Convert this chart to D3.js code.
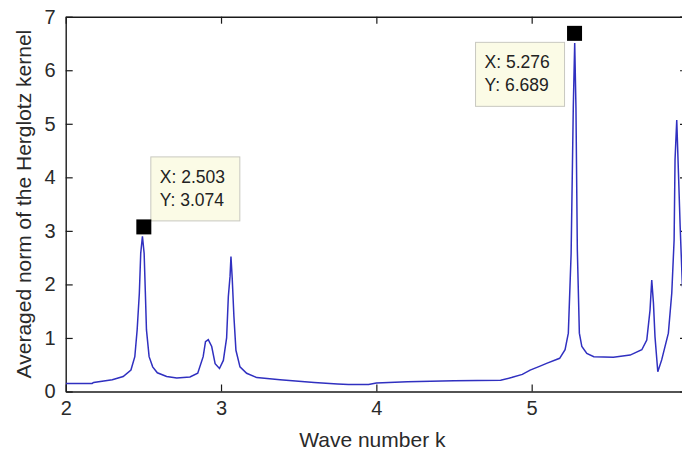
<!DOCTYPE html>
<html><head><meta charset="utf-8">
<script src="https://cdn.jsdelivr.net/npm/d3@7"></script>
<style>
body{margin:0;background:#fff}
svg{display:block}
text{font-family:"Liberation Sans",Arial,Helvetica,sans-serif}
</style>
</head><body>
<svg id="c" width="682" height="453"></svg>
<script>
// ---- data ----
const waveNumber = [2.00,2.17,2.18,2.30,2.37,2.42,2.445,2.46,2.474,2.483,2.494,2.505,2.513,2.52,2.537,2.56,2.59,2.65,2.715,2.80,2.85,2.885,2.90,2.918,2.94,2.962,2.99,3.015,3.036,3.047,3.058,3.064,3.072,3.083,3.096,3.122,3.165,3.23,3.38,3.60,3.75,3.82,3.95,4.00,4.20,4.50,4.80,4.87,4.94,4.99,5.05,5.10,5.18,5.215,5.236,5.254,5.268,5.277,5.285,5.294,5.307,5.323,5.355,5.40,5.526,5.634,5.709,5.741,5.762,5.773,5.784,5.794,5.812,5.837,5.88,5.902,5.917,5.923,5.934,5.945,5.956,5.97,5.99];
const kernelNorm = [0.15,0.15,0.17,0.22,0.28,0.40,0.65,1.15,1.83,2.58,2.90,2.58,1.83,1.15,0.65,0.46,0.35,0.28,0.25,0.27,0.34,0.65,0.93,0.97,0.84,0.52,0.43,0.58,1.00,1.77,2.15,2.52,2.12,1.40,0.77,0.46,0.34,0.26,0.22,0.17,0.14,0.13,0.13,0.16,0.18,0.20,0.21,0.26,0.32,0.40,0.47,0.53,0.62,0.78,1.09,2.58,5.32,6.51,5.32,2.64,1.09,0.84,0.71,0.65,0.64,0.68,0.78,0.96,1.52,2.08,1.65,1.02,0.37,0.59,1.09,1.84,2.83,4.33,5.07,4.08,3.08,2.00,1.50];
const xTickValues = [2,3,4,5,6];
const yTickValues = [0,1,2,3,4,5,6,7];
const tipX = [2.503, 5.276];
const tipY = [3.074, 6.689];
const xLabel = "Wave number k";
const yLabel = "Averaged norm of the Herglotz kernel";

// ---- layout ----
const svg = d3.select("#c");
const L = 65.7, R = 687, T = 16.7, B = 391.5;
const x = d3.scaleLinear().domain([2,6]).range([L,R]);
const y = d3.scaleLinear().domain([0,7]).range([B,T]);
const axisColor = "#1a1a1a", textColor = "#2a2a2a";

svg.append("defs").append("clipPath").attr("id","clip")
  .append("rect").attr("x",L).attr("y",T-10).attr("width",R-L).attr("height",B-T+10);

function styleAxis(g, fs){
  g.select(".domain").attr("stroke",axisColor).attr("stroke-width",1.4);
  g.selectAll(".tick line").attr("stroke",axisColor).attr("stroke-width",1.2);
  g.selectAll(".tick text").attr("fill",textColor).style("font-size",fs+"px");
  g.attr("font-family",null);
}

const gx = svg.append("g").attr("transform",`translate(0,${B})`)
  .call(d3.axisBottom(x).tickValues(xTickValues).tickFormat(d3.format("d")).tickSizeInner(-7).tickSizeOuter(0).tickPadding(9.5));
styleAxis(gx,20);
const gy = svg.append("g").attr("transform",`translate(${L},0)`)
  .call(d3.axisLeft(y).tickValues(yTickValues).tickFormat(d3.format("d")).tickSizeInner(-7).tickSizeOuter(0).tickPadding(10));
styleAxis(gy,20);
const gt = svg.append("g").attr("transform",`translate(0,${T})`)
  .call(d3.axisTop(x).tickValues(xTickValues).tickFormat("").tickSizeInner(-7).tickSizeOuter(0));
styleAxis(gt,20);
const gr = svg.append("g").attr("transform",`translate(${R},0)`)
  .call(d3.axisRight(y).tickValues(yTickValues).tickFormat("").tickSizeInner(-7).tickSizeOuter(0));
styleAxis(gr,20);

// ---- line ----
const pts = waveNumber.map((k,i)=>[k,kernelNorm[i]]);
svg.append("path").datum(pts)
  .attr("clip-path","url(#clip)")
  .attr("fill","none").attr("stroke","#3030c0").attr("stroke-width",1.5)
  .attr("stroke-linejoin","miter")
  .attr("d", d3.line().x(d=>x(d[0])).y(d=>y(d[1])));

// ---- labels ----
svg.append("text").attr("x",(L+R)/2 - 4).attr("y",447)
  .attr("text-anchor","middle").attr("fill",textColor).style("font-size","21px").text(xLabel);
svg.append("text").attr("transform",`translate(31,${(T+B)/2}) rotate(-90)`)
  .attr("text-anchor","middle").attr("fill",textColor).style("font-size","21px").text(yLabel);

// ---- data tips ----
const tips = tipX.map((v,i)=>({x:v,y:tipY[i]}));
const boxW = 89, boxH = 64;
tips.forEach((t,i)=>{
  const mx = x(t.x), my = y(t.y);
  let bx, by;
  if(i===0){ bx = mx + 7; by = my - 6 - boxH; }
  else { bx = mx - 10 - boxW; by = my + 9; }
  const g = svg.append("g");
  g.append("rect").attr("x",bx).attr("y",by).attr("width",boxW).attr("height",boxH)
    .attr("fill","#fbfbe6").attr("stroke","#c8c8c0").attr("stroke-width",1);
  g.append("text").attr("x",bx+9).attr("y",by+26).attr("fill","#222").style("font-size","17.5px").text("X: "+t.x.toFixed(3));
  g.append("text").attr("x",bx+9).attr("y",by+49).attr("fill","#222").style("font-size","17.5px").text("Y: "+t.y.toFixed(3));
  svg.append("rect").attr("x",mx-7.5).attr("y",my-7.5).attr("width",15).attr("height",15).attr("fill","#000");
});
</script>
</body></html>
